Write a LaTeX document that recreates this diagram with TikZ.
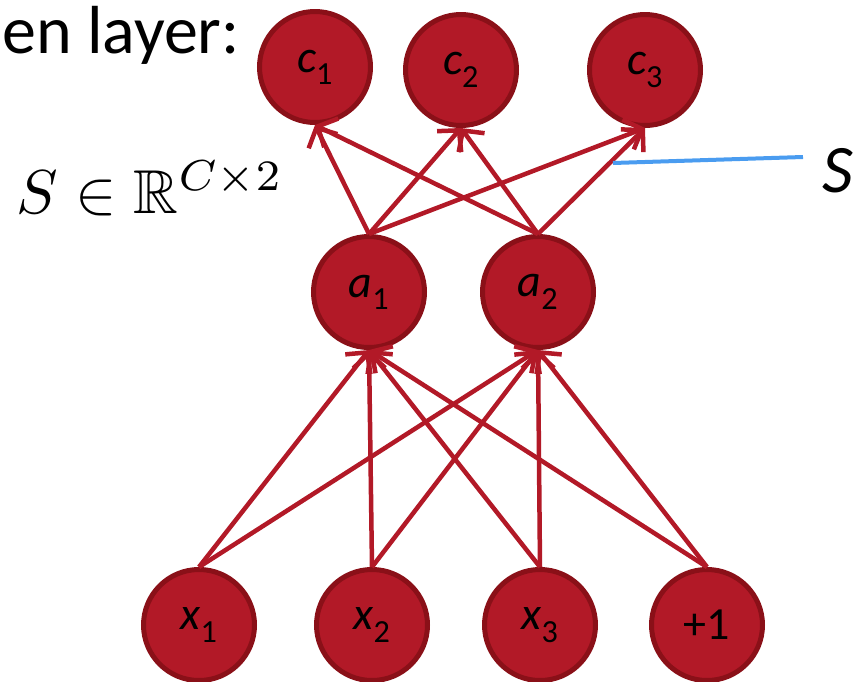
\documentclass[tikz,border=0pt]{standalone}
\usepackage{amsmath}
\usepackage{amssymb}
\usepackage{graphicx}
\usepackage{fontspec}
\setmainfont{Carlito}
\usetikzlibrary{arrows.meta}
\definecolor{nodered}{RGB}{178,25,39}
\definecolor{nodeedge}{RGB}{138,16,24}
\definecolor{linkblue}{RGB}{74,156,240}
\tikzset{
  unit/.style  = {draw=nodeedge, fill=nodered, circle, line width=5pt,
                  minimum size=111pt, inner sep=0pt,
                  font=\fontsize{46}{52}\selectfont},
  wt/.style    = {draw=nodered, line width=4.5pt,
                  -{Straight Barb[length=15pt, width=32pt]}},
  big/.style   = {font=\fontsize{68}{76}\selectfont, inner sep=0pt},
}

\begin{document}
\begin{tikzpicture}[x=1pt, y=-1pt]
  \useasboundingbox (0,0) rectangle (868,681);
  % output layer
  \node[unit] (c1) at (315,67) {\textit{c}\textsubscript{1}};
  \node[unit] (c2) at (461,70) {\textit{c}\textsubscript{2}};
  \node[unit] (c3) at (645,70) {\textit{c}\textsubscript{3}};
  % hidden layer
  \node[unit] (a1) at (369,292) {\textit{a}\textsubscript{1}};
  \node[unit] (a2) at (538,292) {\textit{a}\textsubscript{2}};
  % inputs
  \node[unit] (x1) at (199,625) {\textit{x}\textsubscript{1}};
  \node[unit] (x2) at (372,625) {\textit{x}\textsubscript{2}};
  \node[unit] (x3) at (540,625) {\textit{x}\textsubscript{3}};
  \node[unit] (b)  at (707,625) {+1};
  \foreach \a in {a1, a2}{
    \foreach \c in {c1, c2, c3}{ \draw[wt] (\a.north) -- (\c.south); }
    \foreach \x in {x1, x2, x3, b}{ \draw[wt] (\x.north) -- (\a.south); }
  }
  % labels
  \node[big, anchor=base east] (title) at (240,53) {en layer:};
  \node[inner sep=0pt, anchor=base west]
    (dim) at (16,213) {\scalebox{6.2}{$S \in \mathbb{R}^{C\times 2}$}};
  \node[big, anchor=base west] (slbl) at (822,192) {\textit{S}};
  \coordinate (sfrom) at (613,163);
  \coordinate (sto) at (803,157);
  \draw[linkblue, line width=4pt] (sfrom) -- (sto);
\end{tikzpicture}
\end{document}
